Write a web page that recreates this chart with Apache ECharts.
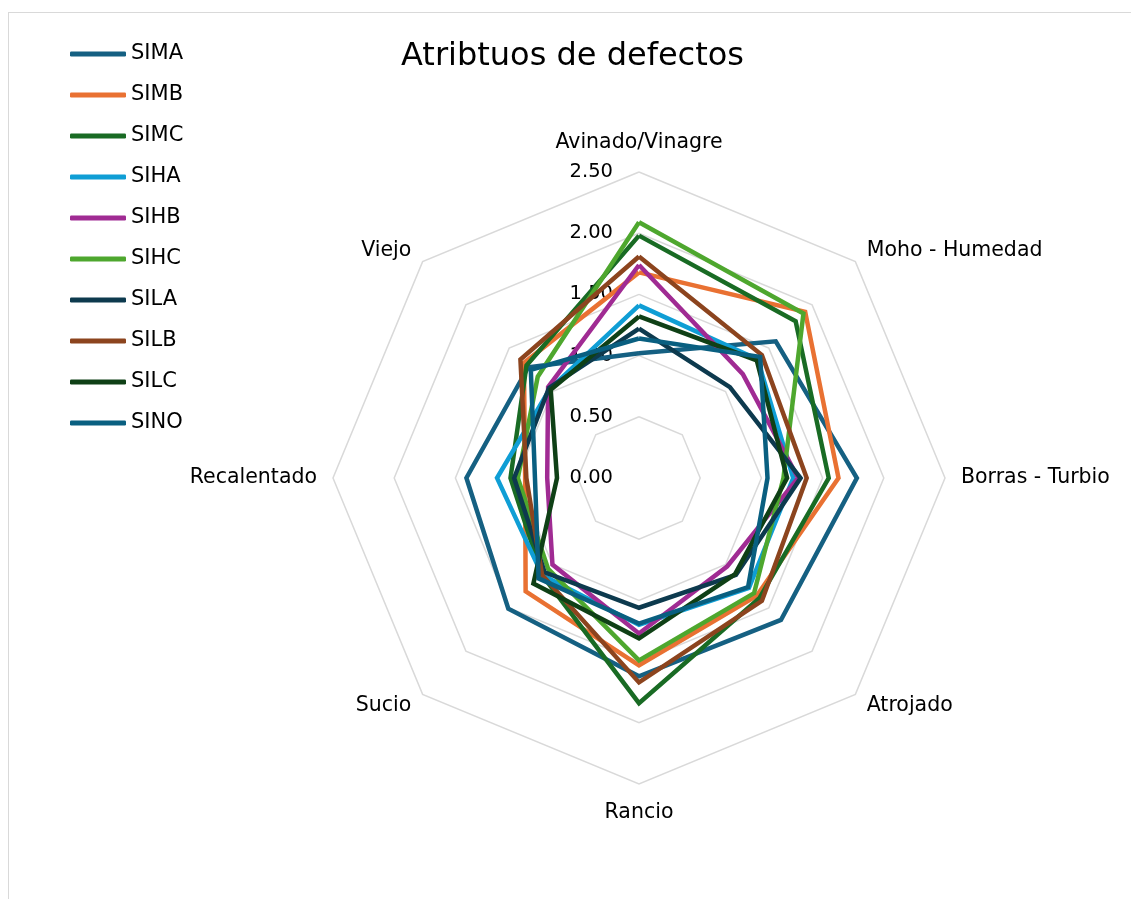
<!DOCTYPE html>
<html>
<head>
<meta charset="utf-8">
<script src="https://cdn.jsdelivr.net/npm/echarts@6/dist/echarts.min.js"></script>
<style>
  html, body { margin: 0; padding: 0; background: #ffffff; }
  #frame { position: absolute; left: 8px; top: 12px; width: 1300px; height: 1000px; border: 1px solid #d9d9d9; box-sizing: border-box; }
  #chart { position: absolute; left: 0; top: 0; width: 1131px; height: 899px; }
</style>
</head>
<body>
<div id="frame"></div>
<div id="chart"></div>
<script>
// Defect attributes, listed clockwise from the top axis
const attributes = ['Avinado/Vinagre', 'Moho - Humedad', 'Borras - Turbio', 'Atrojado', 'Rancio', 'Sucio', 'Recalentado', 'Viejo'];
const sampleNames = ['SIMA', 'SIMB', 'SIMC', 'SIHA', 'SIHB', 'SIHC', 'SILA', 'SILB', 'SILC', 'SINO'];
const tickLabels = ['0.00', '0.50', '1.00', '1.50', '2.00', '2.50'];

// One score per attribute, same order as `attributes`
const SIMA = [1.02, 1.58, 1.78, 1.64, 1.62, 1.51, 1.41, 1.28];
const SIMB = [1.68, 1.92, 1.63, 1.36, 1.53, 1.31, 0.93, 1.33];
const SIMC = [1.98, 1.81, 1.55, 1.39, 1.84, 1.12, 1.05, 1.30];
const SIHA = [1.41, 1.37, 1.26, 1.27, 1.20, 1.12, 1.16, 1.03];
const SIHB = [1.74, 1.20, 1.30, 1.02, 1.27, 1.00, 0.75, 1.05];
const SIHC = [2.09, 1.90, 1.18, 1.33, 1.49, 1.05, 0.99, 1.17];
const SILA = [1.22, 1.05, 1.32, 1.12, 1.06, 1.09, 1.02, 1.04];
const SILB = [1.81, 1.42, 1.37, 1.42, 1.67, 1.12, 0.92, 1.37];
const SILC = [1.32, 1.36, 1.21, 1.11, 1.31, 1.22, 0.67, 1.02];
const SINO = [1.14, 1.40, 1.05, 1.26, 1.19, 1.16, 0.85, 1.25];

const sampleValues = [SIMA, SIMB, SIMC, SIHA, SIHB, SIHC, SILA, SILB, SILC, SINO];
const palette = ['#156082', '#E97132', '#196B24', '#0F9ED5', '#A02B93', '#4EA72E', '#0D3A4E', '#8C441E', '#0F4016', '#095F80'];

const scaleMax = Number(tickLabels[tickLabels.length - 1]);
const font = 'DejaVu Sans, sans-serif';

// ECharts lays radar axes out counter-clockwise; walk the list backwards
// (keeping the first axis on top) so the attributes run clockwise.
const order = attributes.map((_, i) => (attributes.length - i) % attributes.length);

const indicator = order.map((k, i) => {
  const ind = { name: attributes[k], min: 0, max: scaleMax };
  if (i === 0) {
    // scale labels only along the top axis
    ind.axisLabel = {
      show: true,
      color: '#000000',
      fontSize: 19.5,
      fontFamily: font,
      margin: 26,
      formatter: v => tickLabels[Math.round(v / 0.5)]
    };
  }
  return ind;
});

const chart = echarts.init(document.getElementById('chart'), null, { renderer: 'canvas' });
chart.setOption({
  animation: false,
  color: palette,
  title: {
    text: 'Atribtuos de defectos',
    left: 401,
    top: 41,
    padding: 0,
    textStyle: { fontFamily: font, fontSize: 32, fontWeight: 'normal', color: '#000000' }
  },
  legend: {
    orient: 'vertical',
    left: 70,
    top: 42,
    padding: 0,
    icon: 'roundRect',
    itemWidth: 56,
    itemHeight: 5,
    itemGap: 17,
    data: sampleNames,
    textStyle: { fontFamily: font, fontSize: 21, color: '#000000', lineHeight: 24 }
  },
  radar: {
    center: [639, 478],
    radius: 306,
    startAngle: 90,
    splitNumber: 5,
    shape: 'polygon',
    indicator: indicator,
    nameGap: 16,
    axisName: { color: '#000000', fontSize: 20.5, fontFamily: font, lineHeight: 26 },
    axisLine: { show: false },
    axisTick: { show: false },
    axisLabel: { show: false },
    splitArea: { show: false },
    splitLine: { lineStyle: { color: '#d9d9d9', width: 1.5 } }
  },
  series: sampleNames.map((name, i) => ({
    name: name,
    type: 'radar',
    symbol: 'none',
    lineStyle: { width: 4.5, color: palette[i], join: 'miter' },
    itemStyle: { color: palette[i] },
    data: [{ name: name, value: order.map(k => sampleValues[i][k]) }]
  }))
});
</script>
</body>
</html>
